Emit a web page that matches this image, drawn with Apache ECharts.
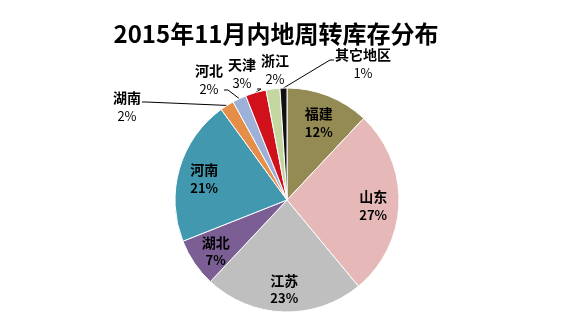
<!DOCTYPE html>
<html>
<head>
<meta charset="utf-8">
<script src="https://cdn.jsdelivr.net/npm/echarts@6/dist/echarts.min.js"></script>
<style>
  html, body { margin: 0; padding: 0; background: #fff; }
  #chart { width: 580px; height: 332px; }
</style>
</head>
<body>
<div id="chart"></div>
<script>
// Inland turnover inventory share by region, November 2015 (percent)
const titleText = '2015年11月内地周转库存分布';
const regions = ['福建', '山东', '江苏', '湖北', '河南', '湖南', '河北', '天津', '浙江', '其它地区'];
const shares = [12, 27, 23, 7, 21, 2, 2, 3, 2, 1];
const sliceColors = ['#948A54', '#E6B9B8', '#BFBFBF', '#7B5E94', '#4198AF',
                     '#E58E4A', '#9DB1D8', '#D0101B', '#C4D7A0', '#111111'];

const FONT = '"Noto Sans CJK SC", "Noto Sans", sans-serif';
const CX = 287, CY = 200, R = 112;
const INNER_FACTOR = 0.77;       // radial position of labels drawn on the slices
const INNER_DY = 3;              // small downward nudge for on-slice labels
const SMALL_SHARE = 5;           // slices below this get an outside label

// outside-label centres for the thin slices
const outsideAnchors = {
  '湖南': [127, 107],
  '河北': [209, 80],
  '天津': [242, 74],
  '浙江': [275, 70],
  '其它地区': [363, 64]
};
// vertical offset (from label centre) where each leader line meets its label
const leaderAttachDy = { '湖南': -5, '河北': 10, '天津': 15, '其它地区': -4 };

const total = shares.reduce((a, b) => a + b, 0);
const midFraction = [];
let acc = 0;
shares.forEach(v => { midFraction.push((acc + v / 2) / total); acc += v; });

const chart = echarts.init(document.getElementById('chart'), null, { renderer: 'canvas' });

const pieData = regions.map((name, i) => {
  const small = shares[i] < SMALL_SHARE;
  return {
    name: name,
    value: shares[i],
    itemStyle: { color: sliceColors[i] },
    label: small
      ? { position: 'outside', formatter: '{n|{b}}\n{p|{c}%}' }
      : { position: 'inside', formatter: '{n|{b}}\n{q|{c}%}' },
    labelLine: { show: small && leaderAttachDy[name] !== undefined }
  };
});

chart.setOption({
  backgroundColor: '#ffffff',
  animation: false,
  title: {
    text: titleText,
    left: 271,
    top: 17,
    textAlign: 'center',
    textStyle: { fontFamily: FONT, fontSize: 24, fontWeight: 'bold', color: '#000' }
  },
  series: [{
    type: 'pie',
    center: [CX, CY],
    radius: R,
    startAngle: 90,
    clockwise: true,
    data: pieData,
    itemStyle: { borderColor: '#ffffff', borderWidth: 1 },
    label: {
      color: '#000',
      fontFamily: FONT,
      rich: {
        n: { fontFamily: FONT, fontSize: 14, fontWeight: 'bold', color: '#000', lineHeight: 18, align: 'center' },
        q: { fontFamily: FONT, fontSize: 13, fontWeight: 'bold', color: '#000', lineHeight: 18, align: 'center' },
        p: { fontFamily: FONT, fontSize: 13, fontWeight: 'normal', color: '#000', lineHeight: 18, align: 'center' }
      }
    },
    labelLine: {
      length: 10,
      length2: 10,
      smooth: false,
      lineStyle: { color: '#000', width: 1 }
    },
    labelLayout: function (params) {
      const i = params.dataIndex;
      const name = regions[i];
      const ang = Math.PI / 2 - midFraction[i] * Math.PI * 2;
      if (outsideAnchors[name]) {
        const p = outsideAnchors[name];
        const out = { x: p[0], y: p[1], align: 'center', verticalAlign: 'middle' };
        if (leaderAttachDy[name] !== undefined) {
          const edge = [CX + Math.cos(ang) * R, CY - Math.sin(ang) * R];
          const halfW = params.labelRect.width / 2;
          const toRight = edge[0] > p[0];
          const endX = toRight ? p[0] + halfW + 1 : p[0] - halfW - 1;
          const endY = p[1] + leaderAttachDy[name];
          const stubX = endX + (toRight ? 4 : -4);
          out.labelLinePoints = [edge, [stubX, endY], [endX, endY]];
        }
        return out;
      }
      return {
        x: CX + Math.cos(ang) * R * INNER_FACTOR,
        y: CY - Math.sin(ang) * R * INNER_FACTOR + INNER_DY,
        align: 'center',
        verticalAlign: 'middle'
      };
    }
  }]
});
</script>
</body>
</html>
